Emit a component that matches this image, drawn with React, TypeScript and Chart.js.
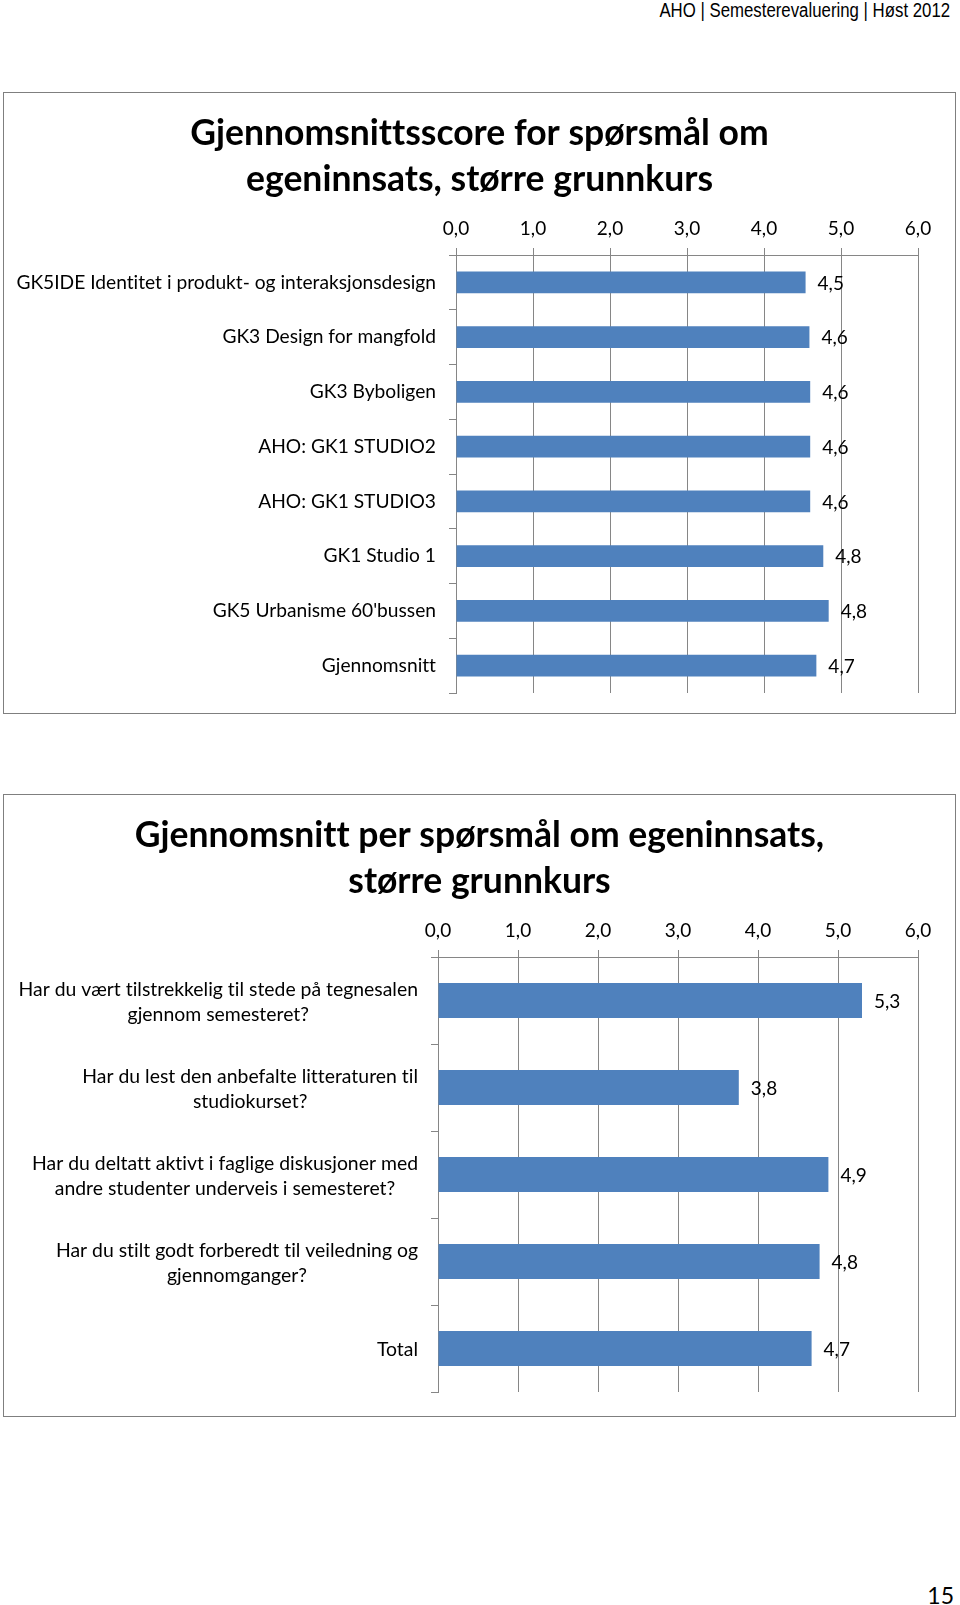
import React, { useEffect, useRef } from 'react';
import { Chart, registerables } from 'chart.js';

Chart.register(...registerables);

// ---------- data ----------
const headerText = 'AHO | Semesterevaluering | Høst 2012';
const pageNumber = '15';

const chart1Title = ['Gjennomsnittsscore for spørsmål om', 'egeninnsats, større grunnkurs'];
const chart1Categories = [
  'GK5IDE Identitet i produkt- og interaksjonsdesign',
  'GK3 Design for mangfold',
  'GK3 Byboligen',
  'AHO: GK1 STUDIO2',
  'AHO: GK1 STUDIO3',
  'GK1 Studio 1',
  "GK5 Urbanisme 60'bussen",
  'Gjennomsnitt',
];
const chart1Values = [4.54, 4.59, 4.6, 4.6, 4.6, 4.77, 4.84, 4.68];

const chart2Title = ['Gjennomsnitt per spørsmål om egeninnsats,', 'større grunnkurs'];
const chart2Categories = [
  ['Har du vært tilstrekkelig til stede på tegnesalen', 'gjennom semesteret?'],
  ['Har du lest den anbefalte litteraturen til', 'studiokurset?'],
  ['Har du deltatt aktivt i faglige diskusjoner med', 'andre studenter underveis i semesteret?'],
  ['Har du stilt godt forberedt til veiledning og', 'gjennomganger?'],
  ['Total'],
];
const chart2Values = [5.3, 3.76, 4.88, 4.77, 4.67];

const axisMin = 0;
const axisMax = 6;
const axisStep = 1;

// ---------- styling ----------
const FONT = 'Lato, "Open Sans", sans-serif';
const BAR_COLOR = '#4F81BD';
const GRID_COLOR = '#868686';
const TEXT_COLOR = '#000000';

const fmt = (v: number) => v.toFixed(1).replace('.', ',');

const noLigPlugin = {
  id: 'noLig',
  beforeDraw(chart: any) {
    try {
      (chart.ctx as any).textRendering = 'optimizeSpeed';
    } catch (e) {}
  },
};

// Centered multi-line title over the whole box
const boxTitlePlugin = {
  id: 'boxTitle',
  afterDraw(chart: any, _args: any, opts: any) {
    const { ctx } = chart;
    ctx.save();
    try {
      ctx.textRendering = 'optimizeSpeed';
    } catch (e) {}
    ctx.font = `bold ${opts.size}px ${FONT}`;
    ctx.fillStyle = TEXT_COLOR;
    ctx.textAlign = 'center';
    ctx.textBaseline = 'middle';
    (opts.text as string[]).forEach((line, i) => {
      ctx.fillText(line, chart.width / 2, opts.padTop + opts.lineHeight / 2 + i * opts.lineHeight);
    });
    ctx.restore();
  },
};

const catLabelPlugin = {
  id: 'catLabels',
  afterDraw(chart: any, _args: any, opts: any) {
    const { ctx } = chart;
    const yScale = chart.scales.y;
    const labels = chart.data.labels as any[];
    const right = chart.chartArea.left - opts.gap;
    ctx.save();
    try {
      ctx.textRendering = 'optimizeSpeed';
    } catch (e) {}
    ctx.font = `${opts.size}px ${FONT}`;
    ctx.fillStyle = TEXT_COLOR;
    ctx.textAlign = 'center';
    ctx.textBaseline = 'middle';
    labels.forEach((lab, i) => {
      const lines: string[] = Array.isArray(lab) ? lab : [lab];
      const w = Math.max(...lines.map((l) => ctx.measureText(l).width));
      const cx = right - w / 2;
      const cy = yScale.getPixelForTick(i) + opts.dy;
      const n = lines.length;
      lines.forEach((l, j) => {
        ctx.fillText(l, cx, cy + (j - (n - 1) / 2) * opts.lineHeight);
      });
    });
    ctx.restore();
  },
};

const valueLabelPlugin = {
  id: 'valueLabels',
  afterDatasetsDraw(chart: any, _args: any, opts: any) {
    const { ctx } = chart;
    const meta = chart.getDatasetMeta(0);
    const data = chart.data.datasets[0].data as number[];
    ctx.save();
    ctx.font = `${opts.size}px ${FONT}`;
    ctx.fillStyle = TEXT_COLOR;
    ctx.textAlign = 'left';
    ctx.textBaseline = 'middle';
    meta.data.forEach((el: any, i: number) => {
      ctx.fillText(fmt(data[i]), el.x + opts.gap, el.y + 1);
    });
    ctx.restore();
  },
};

interface BoxProps {
  top: number;
  height: number;
  title: string[];
  categories: any[];
  values: number[];
  areaLeft: number;
  areaTop: number;
  areaBottom: number;
  titlePadTop: number;
  labelSize: number;
  labelDy: number;
}

const BOX_LEFT = 3;
const BOX_WIDTH = 953;
const BORDER = 1;

function ChartBox(props: BoxProps) {
  const ref = useRef<HTMLCanvasElement | null>(null);
  const cw = BOX_WIDTH - 2 * BORDER;
  const ch = props.height - 2 * BORDER;

  useEffect(() => {
    if (!ref.current) return;
    const titleLH = 46;
    const titleFontSize = 35.5;
    const titleHeight = props.titlePadTop + titleLH * props.title.length;
    const xAxisHeight = props.areaTop - titleHeight;
    const areaRight = 914;

    const chart = new Chart(ref.current, {
      type: 'bar',
      data: {
        labels: props.categories,
        datasets: [
          {
            data: props.values,
            backgroundColor: BAR_COLOR,
            borderWidth: 0,
            barPercentage: 0.4,
            categoryPercentage: 1,
          },
        ],
      },
      plugins: [noLigPlugin, boxTitlePlugin, catLabelPlugin, valueLabelPlugin],
      options: {
        indexAxis: 'y',
        responsive: false,
        animation: false,
        devicePixelRatio: 1,
        layout: {
          padding: { left: 0, top: titleHeight, right: cw - areaRight, bottom: ch - props.areaBottom },
        },
        plugins: {
          legend: { display: false },
          tooltip: { enabled: false },
          title: { display: false },
          boxTitle: { text: props.title, size: titleFontSize, lineHeight: titleLH, padTop: props.titlePadTop },
          catLabels: { size: props.labelSize, lineHeight: 24.6, gap: 20, dy: props.labelDy },
          valueLabels: { size: 19, gap: 12 },
        } as any,
        scales: {
          x: {
            position: 'top',
            min: axisMin,
            max: axisMax,
            afterFit: (scale: any) => {
              scale.height = xAxisHeight;
            },
            ticks: {
              stepSize: axisStep,
              color: TEXT_COLOR,
              font: { family: FONT, size: 19, lineHeight: 1.2 },
              padding: 8,
              callback: (v: any) => fmt(Number(v)),
            },
            grid: {
              color: GRID_COLOR,
              lineWidth: 1,
              tickLength: 7,
              drawOnChartArea: true,
            },
            border: { display: true, color: GRID_COLOR, width: 1 },
          },
          y: {
            afterFit: (scale: any) => {
              scale.width = props.areaLeft;
            },
            ticks: { display: false },
            grid: {
              display: true,
              offset: true,
              drawOnChartArea: false,
              color: GRID_COLOR,
              lineWidth: 1,
              tickLength: 7,
            },
            border: { display: true, color: GRID_COLOR, width: 1 },
          },
        },
      } as any,
    });
    return () => chart.destroy();
  }, []);

  return (
    <div
      style={{
        position: 'absolute',
        left: BOX_LEFT,
        top: props.top,
        width: BOX_WIDTH,
        height: props.height,
        boxSizing: 'border-box',
        border: `${BORDER}px solid #7f7f7f`,
        background: '#fff',
      }}
    >
      <canvas
        ref={ref}
        width={cw}
        height={ch}
        style={{ position: 'absolute', left: 0, top: 0, width: cw, height: ch }}
      />
    </div>
  );
}

export default function App() {
  return (
    <div
      style={{
        position: 'absolute',
        left: 0,
        top: 0,
        width: 960,
        height: 1605,
        background: '#fff',
        overflow: 'hidden',
      }}
    >
      <div
        style={{
          position: 'absolute',
          right: 10,
          top: 0,
          fontFamily: '"Liberation Sans", Arial, sans-serif',
          fontSize: 20,
          lineHeight: '21px',
          color: '#000',
          whiteSpace: 'nowrap',
          transform: 'scaleX(0.84)',
          transformOrigin: 'right center',
        }}
      >
        {headerText}
      </div>

      <ChartBox
        top={92}
        height={622}
        title={chart1Title}
        categories={chart1Categories}
        values={chart1Values}
        areaLeft={452}
        areaTop={162}
        areaBottom={600}
        titlePadTop={18}
        labelSize={19.2}
        labelDy={0}
      />

      <ChartBox
        top={794}
        height={623}
        title={chart2Title}
        categories={chart2Categories}
        values={chart2Values}
        areaLeft={434}
        areaTop={162}
        areaBottom={597}
        titlePadTop={18}
        labelSize={19.4}
        labelDy={1.5}
      />

      <div
        style={{
          position: 'absolute',
          right: 6,
          top: 1582,
          fontFamily: FONT,
          fontSize: 23,
          lineHeight: '26px',
          color: '#000',
        }}
      >
        {pageNumber}
      </div>
    </div>
  );
}
